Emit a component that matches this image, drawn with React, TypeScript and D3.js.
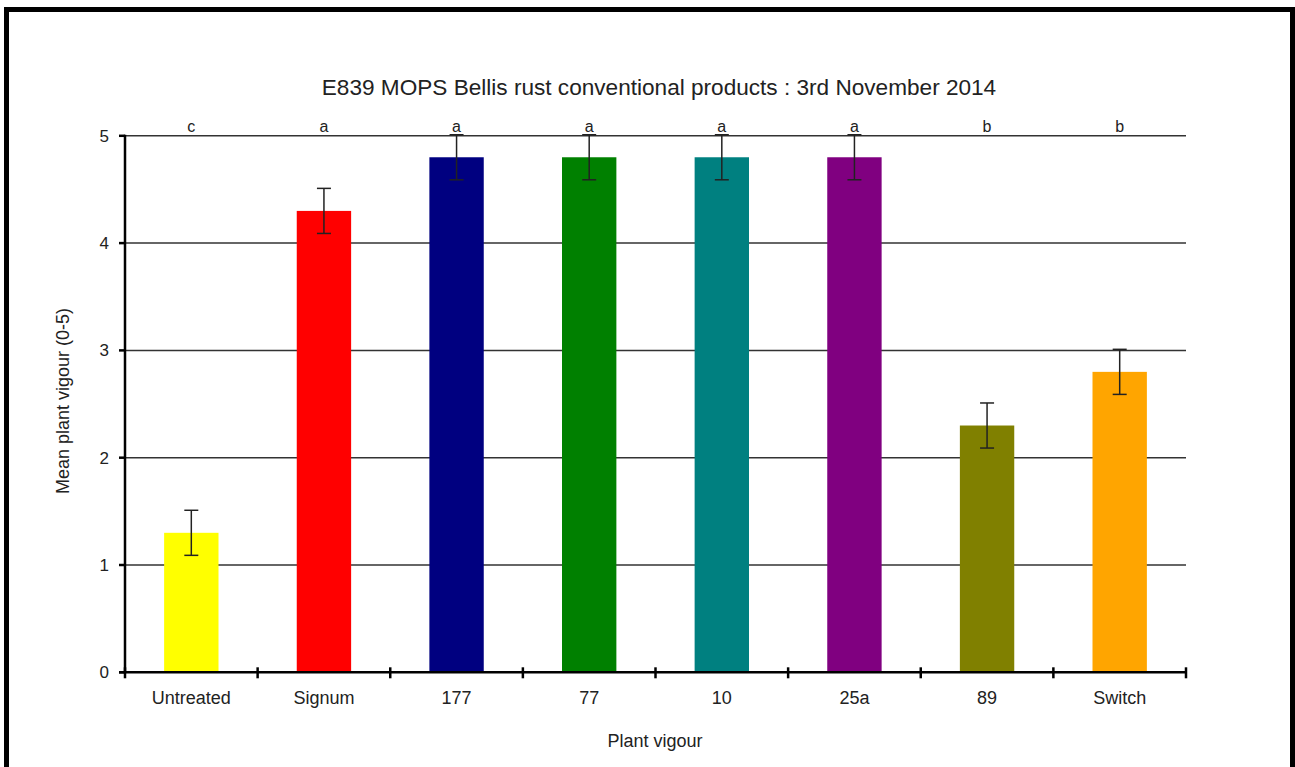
import React from "react";
import * as d3 from "d3";

const categories = ["Untreated", "Signum", "177", "77", "10", "25a", "89", "Switch"];
const meanVigour = [1.3, 4.3, 4.8, 4.8, 4.8, 4.8, 2.3, 2.8];
const stdError = [0.21, 0.21, 0.21, 0.21, 0.21, 0.21, 0.21, 0.21];
const groupLetters = ["c", "a", "a", "a", "a", "a", "b", "b"];
const barColors = ["#FFFF00", "#FF0000", "#000080", "#008000", "#008080", "#800080", "#808000", "#FFA500"];
const yTicks = [0, 1, 2, 3, 4, 5];

const W = 1295;
const H = 767;
const plot = { left: 125, right: 1186, top: 135.8, bottom: 672.3 };
const FONT = "'Liberation Sans', Arial, sans-serif";

export default function App() {
  const x = d3.scaleBand<string>().domain(categories).range([plot.left, plot.right]).paddingInner(0).paddingOuter(0);
  const y = d3.scaleLinear().domain([0, 5]).range([plot.bottom, plot.top]);
  const bw = x.bandwidth();
  const barW = bw * 0.41;
  const capW = 14;
  const boundaries = d3.range(categories.length + 1).map((i) => plot.left + i * bw);

  return (
    <svg width={W} height={H} style={{ position: "absolute", left: 0, top: 0, background: "#fff" }} fontFamily={FONT}>
      <rect x={0} y={0} width={W} height={H} fill="#fff" />
      {/* frame */}
      <line x1={6.5} y1={7} x2={6.5} y2={H} stroke="#000" strokeWidth={5} />
      <line x1={4} y1={9.5} x2={1295} y2={9.5} stroke="#000" strokeWidth={5} />
      <line x1={1292.5} y1={7} x2={1292.5} y2={H} stroke="#000" strokeWidth={5} />

      <text x={659} y={95} textAnchor="middle" fontSize={22.6} fill="#222">
        E839 MOPS Bellis rust conventional products : 3rd November 2014
      </text>

      {/* gridlines */}
      {yTicks.filter((t) => t > 0).map((t) => (
        <line key={t} x1={plot.left} x2={plot.right} y1={y(t)} y2={y(t)} stroke="#333" strokeWidth={1.5} />
      ))}

      {/* bars */}
      {categories.map((c, i) => (
        <rect key={c} x={x(c)! + bw / 2 - barW / 2} y={y(meanVigour[i])} width={barW} height={y(0) - y(meanVigour[i])} fill={barColors[i]} />
      ))}

      {/* error bars */}
      {categories.map((c, i) => {
        const cx = x(c)! + bw / 2;
        const hi = y(meanVigour[i] + stdError[i]);
        const lo = y(meanVigour[i] - stdError[i]);
        return (
          <g key={c} stroke="#222" strokeWidth={1.5}>
            <line x1={cx} x2={cx} y1={hi} y2={lo} />
            <line x1={cx - capW / 2} x2={cx + capW / 2} y1={hi} y2={hi} />
            <line x1={cx - capW / 2} x2={cx + capW / 2} y1={lo} y2={lo} />
          </g>
        );
      })}

      {/* significance letters */}
      {categories.map((c, i) => (
        <text key={c} x={x(c)! + bw / 2} y={plot.top - 4} textAnchor="middle" fontSize={16} fill="#222">
          {groupLetters[i]}
        </text>
      ))}

      {/* axes */}
      <line x1={plot.left} x2={plot.left} y1={plot.top - 1} y2={plot.bottom + 1} stroke="#000" strokeWidth={2.5} />
      <line x1={plot.left - 6} x2={plot.right} y1={plot.bottom} y2={plot.bottom} stroke="#000" strokeWidth={2.5} />
      {yTicks.map((t) => (
        <g key={t}>
          <line x1={plot.left - 6} x2={plot.left} y1={y(t)} y2={y(t)} stroke="#000" strokeWidth={2.5} />
          <text x={plot.left - 16} y={y(t) + 6} textAnchor="end" fontSize={17} fill="#222">
            {t}
          </text>
        </g>
      ))}
      {boundaries.map((bx, i) => (
        <line key={i} x1={bx} x2={bx} y1={plot.bottom - 5} y2={plot.bottom + 6} stroke="#000" strokeWidth={2.5} />
      ))}
      {categories.map((c) => (
        <text key={c} x={x(c)! + bw / 2} y={plot.bottom + 32} textAnchor="middle" fontSize={18} fill="#222">
          {c}
        </text>
      ))}

      <text x={655} y={747} textAnchor="middle" fontSize={18} fill="#222">
        Plant vigour
      </text>
      <text transform={`translate(69, 401) rotate(-90)`} textAnchor="middle" fontSize={18} fill="#222">
        Mean plant vigour (0-5)
      </text>
    </svg>
  );
}
